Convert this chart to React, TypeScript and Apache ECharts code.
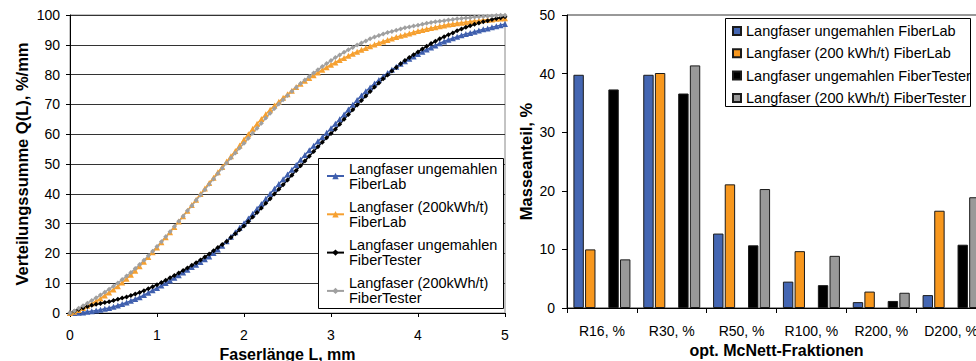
import React, { useEffect, useRef } from "react";
import * as echarts from "echarts";

// Faserlänge L in mm (Stützstellen der Verteilungssummen)
const laenge = [
  0, 0.05, 0.1, 0.15, 0.2, 0.25, 0.3, 0.35, 0.4, 0.45,
  0.5, 0.55, 0.6, 0.65, 0.7, 0.75, 0.8, 0.85, 0.9, 0.95,
  1, 1.05, 1.1, 1.15, 1.2, 1.25, 1.3, 1.35, 1.4, 1.45,
  1.5, 1.55, 1.6, 1.65, 1.7, 1.75, 1.8, 1.85, 1.9, 1.95,
  2, 2.05, 2.1, 2.15, 2.2, 2.25, 2.3, 2.35, 2.4, 2.45,
  2.5, 2.55, 2.6, 2.65, 2.7, 2.75, 2.8, 2.85, 2.9, 2.95,
  3, 3.05, 3.1, 3.15, 3.2, 3.25, 3.3, 3.35, 3.4, 3.45,
  3.5, 3.55, 3.6, 3.65, 3.7, 3.75, 3.8, 3.85, 3.9, 3.95,
  4, 4.05, 4.1, 4.15, 4.2, 4.25, 4.3, 4.35, 4.4, 4.45,
  4.5, 4.55, 4.6, 4.65, 4.7, 4.75, 4.8, 4.85, 4.9, 4.95,
  5,
];

// Verteilungssumme Q(L) in %/mm
const qUngemahlenLab = [
  0.0, 0.0, 0.1, 0.2, 0.4, 0.6, 0.8, 1.1, 1.4, 1.7,
  2.1, 2.5, 3.0, 3.5, 4.1, 4.7, 5.3, 6.0, 6.8, 7.6,
  8.4, 9.2, 10.1, 10.9, 11.8, 12.7, 13.6, 14.5, 15.4, 16.2,
  17.1, 18.0, 19.0, 20.1, 21.3, 22.6, 24.1, 25.6, 27.1, 28.6,
  30.1, 31.7, 33.3, 35.0, 36.6, 38.3, 40.0, 41.7, 43.3, 44.9,
  46.5, 48.1, 49.7, 51.4, 53.0, 54.6, 56.1, 57.6, 59.0, 60.5,
  62.0, 63.5, 65.0, 66.6, 68.3, 69.9, 71.5, 73.0, 74.4, 75.7,
  77.0, 78.2, 79.4, 80.5, 81.6, 82.6, 83.6, 84.5, 85.3, 86.1,
  86.9, 87.7, 88.4, 89.1, 89.8, 90.5, 91.1, 91.7, 92.2, 92.7,
  93.2, 93.6, 94.0, 94.4, 94.8, 95.2, 95.5, 95.9, 96.2, 96.6,
  97.0,
];

const qGemahlenLab = [
  0.0, 0.4, 1.0, 1.7, 2.4, 3.2, 4.0, 4.9, 5.9, 6.9,
  7.9, 9.0, 10.2, 11.5, 12.8, 14.2, 15.7, 17.2, 18.8, 20.4,
  22.0, 23.7, 25.4, 27.1, 28.9, 30.7, 32.5, 34.3, 36.2, 38.0,
  39.9, 41.8, 43.6, 45.4, 47.2, 49.0, 50.8, 52.6, 54.4, 56.2,
  58.2, 60.0, 61.8, 63.5, 65.1, 66.7, 68.2, 69.6, 70.9, 72.2,
  73.4, 74.6, 75.8, 76.9, 77.9, 78.9, 79.8, 80.7, 81.6, 82.5,
  83.3, 84.1, 84.9, 85.6, 86.3, 87.0, 87.7, 88.3, 88.9, 89.5,
  90.1, 90.6, 91.1, 91.6, 92.1, 92.6, 93.0, 93.4, 93.8, 94.2,
  94.6, 95.0, 95.3, 95.6, 95.9, 96.2, 96.5, 96.8, 97.0, 97.2,
  97.4, 97.6, 97.8, 98.0, 98.1, 98.3, 98.4, 98.5, 98.7, 98.8,
  98.9,
];

const qUngemahlenTester = [
  0.0, 0.6, 1.2, 1.7, 2.2, 2.6, 2.9, 3.2, 3.5, 3.8,
  4.2, 4.6, 5.0, 5.4, 5.9, 6.4, 6.9, 7.5, 8.1, 8.8,
  9.5, 10.2, 11.0, 11.8, 12.6, 13.4, 14.3, 15.1, 16.0, 16.9,
  17.8, 18.8, 19.8, 20.9, 22.0, 23.0, 24.0, 25.3, 26.6, 27.9,
  29.2, 30.7, 32.2, 33.7, 35.2, 36.8, 38.3, 39.9, 41.5, 43.0,
  44.6, 46.2, 47.8, 49.4, 51.0, 52.6, 54.2, 55.8, 57.3, 58.8,
  60.2, 61.7, 63.3, 65.0, 66.6, 68.2, 69.8, 71.3, 72.8, 74.3,
  75.8, 77.2, 78.6, 79.9, 81.2, 82.4, 83.6, 84.7, 85.7, 86.7,
  87.6, 88.6, 89.5, 90.4, 91.2, 92.0, 92.7, 93.4, 94.0, 94.7,
  95.3, 95.9, 96.4, 96.9, 97.3, 97.7, 98.1, 98.5, 98.8, 99.1,
  99.4,
];

const qGemahlenTester = [
  0.0, 0.7, 1.6, 2.4, 3.3, 4.2, 5.1, 6.0, 7.0, 8.0,
  9.0, 10.1, 11.2, 12.4, 13.6, 14.9, 16.3, 17.7, 19.2, 20.7,
  22.3, 23.9, 25.6, 27.3, 29.0, 30.8, 32.5, 34.3, 36.0, 37.8,
  39.6, 41.4, 43.2, 45.0, 46.8, 48.6, 50.3, 52.0, 53.7, 55.4,
  57.0, 58.6, 60.3, 62.0, 63.7, 65.4, 67.0, 68.6, 70.1, 71.6,
  73.0, 74.4, 75.7, 77.0, 78.2, 79.4, 80.5, 81.6, 82.7, 83.7,
  84.7, 85.7, 86.6, 87.5, 88.3, 89.1, 89.9, 90.6, 91.3, 92.0,
  92.6, 93.1, 93.6, 94.1, 94.5, 94.9, 95.3, 95.7, 96.0, 96.3,
  96.6, 96.9, 97.2, 97.5, 97.7, 97.9, 98.1, 98.3, 98.5, 98.7,
  98.8, 99.0, 99.1, 99.3, 99.4, 99.5, 99.6, 99.7, 99.8, 99.9,
  99.9,
];

// McNett-Fraktionen, Masseanteil in %
const fraktionen = ["R16, %", "R30, %", "R50, %", "R100, %", "R200, %", "D200, %"];
const anteilUngemahlenLab = [39.8, 39.8, 12.7, 4.5, 1.0, 2.2];
const anteilGemahlenLab = [10.0, 40.1, 21.1, 9.7, 2.8, 16.6];
const anteilUngemahlenTester = [37.3, 36.6, 10.7, 3.9, 1.2, 10.8];
const anteilGemahlenTester = [8.3, 41.4, 20.3, 8.9, 2.6, 18.9];

const linienNamen = [
  "Langfaser ungemahlen\nFiberLab",
  "Langfaser (200kWh/t)\nFiberLab",
  "Langfaser ungemahlen\nFiberTester",
  "Langfaser (200kWh/t)\nFiberTester",
];
const balkenNamen = [
  "Langfaser ungemahlen FiberLab",
  "Langfaser (200 kWh/t) FiberLab",
  "Langfaser ungemahlen FiberTester",
  "Langfaser (200 kWh/t) FiberTester",
];

const FONT = "'Liberation Sans', Arial, Helvetica, sans-serif";
const BLAU = "#4466B2";
const ORANGE = "#F7971D";
const SCHWARZ = "#000000";
const GRAU = "#999999";

function paare(werte: number[]) {
  return laenge.map((l, i) => [l, werte[i]]);
}

export default function App() {
  const ref = useRef<HTMLDivElement>(null);

  useEffect(() => {
    if (!ref.current) return;
    const chart = echarts.init(ref.current, null, { renderer: "svg" });

    const linie = (name: string, werte: number[], farbe: string, symbol: string, size: number) => ({
      name,
      type: "line",
      xAxisIndex: 0,
      yAxisIndex: 0,
      data: paare(werte),
      symbol,
      symbolSize: size,
      showSymbol: true,
      lineStyle: { color: farbe, width: 1.5 },
      itemStyle: { color: farbe },
      z: 2,
    });

    const balken = (name: string, werte: (number | null)[], farbe: string) => ({
      name,
      type: "bar",
      xAxisIndex: 1,
      yAxisIndex: 1,
      data: werte,
      barWidth: 10.4,
      barGap: "12%",
      itemStyle: { color: farbe, borderColor: "#1a1a1a", borderWidth: 1 },
    });

    const achsenText = { color: "#000", fontFamily: FONT, fontSize: 14 };
    const titelText = { color: "#000", fontFamily: FONT, fontSize: 16, fontWeight: "bold" };

    chart.setOption({
      animation: false,
      backgroundColor: "#ffffff",
      textStyle: { fontFamily: FONT },
      grid: [
        {
          left: 70, top: 15, width: 435, height: 298,
          outerBoundsMode: "none", containLabel: false,
          show: true, borderColor: "#888", borderWidth: 1,
        },
        {
          left: 567, top: 15, width: 419, height: 293,
          outerBoundsMode: "none", containLabel: false,
          show: true, borderColor: "#333", borderWidth: 1,
        },
      ],
      xAxis: [
        {
          type: "value",
          gridIndex: 0,
          min: 0,
          max: 5,
          interval: 1,
          axisLine: { show: true, lineStyle: { color: "#000" } },
          axisTick: { show: true, length: 4, lineStyle: { color: "#000" } },
          axisLabel: { ...achsenText, margin: 15 },
          splitLine: { show: false },
          name: "Faserlänge L, mm",
          nameLocation: "middle",
          nameGap: 29,
          nameTextStyle: titelText,
        },
        {
          type: "category",
          gridIndex: 1,
          data: fraktionen,
          axisLine: { show: true, lineStyle: { color: "#000" } },
          axisTick: { show: true, length: 5, alignWithLabel: false, interval: 0, lineStyle: { color: "#000" } },
          axisLabel: { ...achsenText, margin: 16, interval: 0 },
          splitLine: { show: false },
          name: "opt. McNett-Fraktionen",
          nameLocation: "middle",
          nameGap: 34,
          nameTextStyle: titelText,
        },
      ],
      yAxis: [
        {
          type: "value",
          gridIndex: 0,
          min: 0,
          max: 100,
          interval: 10,
          axisLine: { show: true, lineStyle: { color: "#000" } },
          axisTick: { show: true, length: 4, lineStyle: { color: "#000" } },
          axisLabel: { ...achsenText, margin: 10 },
          splitLine: { show: true, lineStyle: { color: "#333", width: 1 } },
          name: "Verteilungssumme Q(L), %/mm",
          nameLocation: "middle",
          nameGap: 40,
          nameTextStyle: { ...titelText, fontSize: 16.5 },
        },
        {
          type: "value",
          gridIndex: 1,
          min: 0,
          max: 50,
          interval: 10,
          axisLine: { show: true, lineStyle: { color: "#000" } },
          axisTick: { show: true, length: 5, lineStyle: { color: "#000" } },
          axisLabel: { ...achsenText, margin: 12 },
          splitLine: { show: false },
          name: "Masseanteil, %",
          nameLocation: "middle",
          nameGap: 33,
          nameTextStyle: { ...titelText, fontSize: 16.5 },
        },
      ],
      legend: [
        {
          data: linienNamen,
          orient: "vertical",
          left: 326,
          top: 153.5,
          padding: 0,
          itemWidth: 17,
          itemHeight: 8,
          itemGap: -6.7,
          selectedMode: false,
          textStyle: { color: "#000", fontFamily: FONT, fontSize: 14.5, lineHeight: 15, padding: [15, 0, 0, 0] },
          z: 5,
        },
        {
          data: balkenNamen,
          orient: "vertical",
          left: 732,
          top: 23,
          padding: 0,
          icon: "rect",
          itemWidth: 8,
          itemHeight: 8,
          itemGap: 6.3,
          selectedMode: false,
          textStyle: { color: "#000", fontFamily: FONT, fontSize: 14.5, lineHeight: 16 },
          z: 5,
        },
      ],
      graphic: [
        {
          type: "rect",
          z: 3,
          shape: { x: 318.5, y: 158.5, width: 185, height: 150 },
          style: { fill: "#ffffff", stroke: "#000", lineWidth: 1 },
        },
        {
          type: "rect",
          z: 3,
          shape: { x: 725.5, y: 18.5, width: 245, height: 88 },
          style: { fill: "#ffffff", stroke: "#000", lineWidth: 1 },
        },
      ],
      series: [
        linie(linienNamen[0], qUngemahlenLab, "#3F5FAE", "triangle", 6),
        linie(linienNamen[1], qGemahlenLab, "#F6A030", "triangle", 6),
        linie(linienNamen[2], qUngemahlenTester, SCHWARZ, "diamond", 5),
        linie(linienNamen[3], qGemahlenTester, "#A0A0A0", "diamond", 5),
        balken(balkenNamen[0], anteilUngemahlenLab, BLAU),
        balken(balkenNamen[1], anteilGemahlenLab, ORANGE),
        balken("Zwischenraum", fraktionen.map(() => null), "#ffffff"),
        balken(balkenNamen[2], anteilUngemahlenTester, SCHWARZ),
        balken(balkenNamen[3], anteilGemahlenTester, GRAU),
      ],
    });

    return () => chart.dispose();
  }, []);

  return (
    <div
      ref={ref}
      style={{ position: "absolute", left: 0, top: 0, width: 976, height: 361, background: "#fff" }}
    />
  );
}
